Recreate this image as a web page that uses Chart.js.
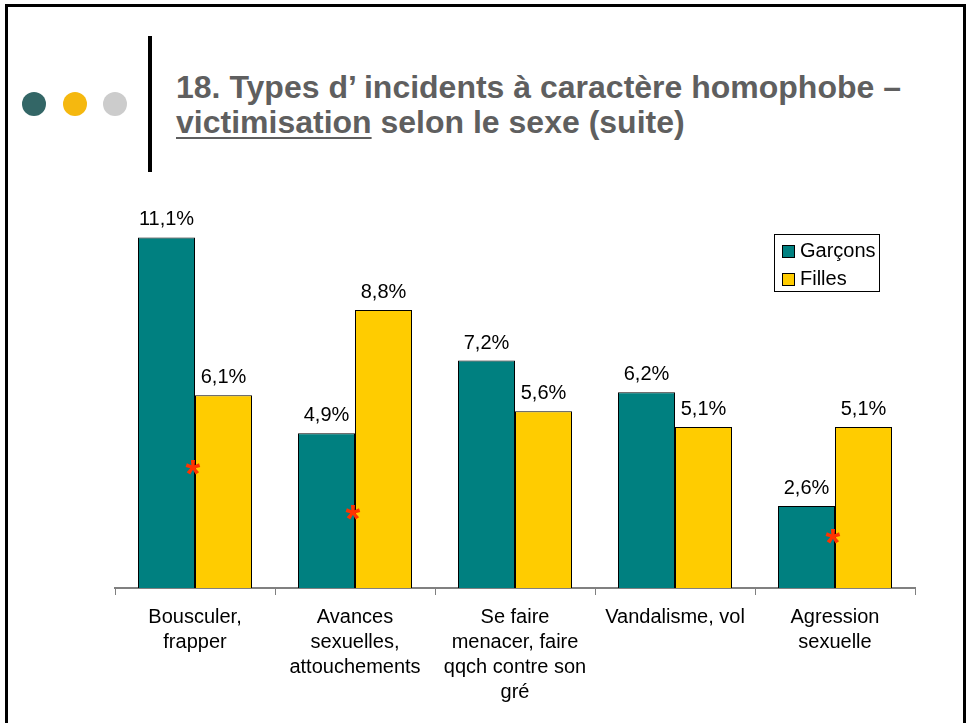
<!DOCTYPE html>
<html>
<head>
<meta charset="utf-8">
<script src="https://cdn.jsdelivr.net/npm/chart.js@4/dist/chart.umd.min.js"></script>
<style>
  html, body { margin: 0; padding: 0; background: #fff; }
  body { width: 966px; height: 723px; position: relative; overflow: hidden; font-family: Arial, "Liberation Sans", sans-serif; }
  #frame { position: absolute; left: 5px; top: 4px; width: 961px; height: 722px; box-sizing: border-box; border: 3px solid #000; }
  .dot { position: absolute; width: 24px; height: 24px; border-radius: 50%; top: 92px; }
  #vbar { position: absolute; left: 148px; top: 36px; width: 4px; height: 136px; background: #000; }
  #title { position: absolute; left: 176px; top: 70px; font-size: 32px; line-height: 35px; font-weight: bold; color: #5F5F5F; white-space: nowrap; }
  #title u { text-decoration-thickness: 2px; text-underline-offset: 4px; }
  #wrap { position: absolute; left: 0; top: 0; width: 966px; height: 723px; }
  #c { display: block; }
</style>
</head>
<body>
<div id="frame"></div>
<div class="dot" style="left:22px;background:#336666;"></div>
<div class="dot" style="left:63px;background:#F5B80F;"></div>
<div class="dot" style="left:103px;background:#CCCCCC;"></div>
<div id="vbar"></div>
<div id="title">18. Types d’ incidents à caractère homophobe –<br><u>victimisation</u> selon le sexe (suite)</div>
<div id="wrap"><canvas id="c" width="966" height="723"></canvas></div>
<script>
const categories = [
  ["Bousculer,", "frapper"],
  ["Avances", "sexuelles,", "attouchements"],
  ["Se faire", "menacer, faire", "qqch contre son", "gré"],
  ["Vandalisme, vol"],
  ["Agression", "sexuelle"]
];
const seriesNames = ["Garçons", "Filles"];
const garcons = [11.1, 4.9, 7.2, 6.2, 2.6];
const filles = [6.1, 8.8, 5.6, 5.1, 5.1];
// height (in %) of the red significance asterisk for each category (null = none)
const significance = [3.8, 2.37, null, null, 1.6];

const FONT = 'Arial, "Liberation Sans", sans-serif';
const fmt = v => v.toFixed(1).replace('.', ',') + '%';

const overlay = {
  id: 'overlay',
  afterDatasetsDraw(chart) {
    const ctx = chart.ctx;
    const xs = chart.scales.x, ys = chart.scales.y;
    ctx.save();
    ctx.font = '20px ' + FONT;
    ctx.fillStyle = '#000';
    ctx.textAlign = 'center';
    ctx.textBaseline = 'alphabetic';
    chart.data.datasets.forEach((ds, di) => {
      chart.getDatasetMeta(di).data.forEach((bar, i) => {
        ctx.fillText(fmt(ds.data[i]), bar.x, bar.y - 12);
      });
    });
    ctx.font = 'bold 38px ' + FONT;
    ctx.fillStyle = '#FF3300';
    significance.forEach((s, i) => {
      if (s === null) return;
      ctx.fillText('*', xs.getPixelForValue(i) - 2, ys.getPixelForValue(s) + 19);
    });
    const lx = chart.chartArea.right - 141, ly = 234;
    ctx.strokeStyle = '#000';
    ctx.lineWidth = 1;
    ctx.strokeRect(lx + 0.5, ly + 0.5, 105, 57);
    ctx.font = '20px ' + FONT;
    ctx.textAlign = 'left';
    ctx.textBaseline = 'middle';
    chart.data.datasets.forEach((ds, di) => {
      const y = ly + 11 + di * 28;
      ctx.fillStyle = ds.backgroundColor;
      ctx.fillRect(lx + 8, y, 12, 12);
      ctx.strokeRect(lx + 8.5, y + 0.5, 12, 12);
      ctx.fillStyle = '#000';
      ctx.fillText(ds.label, lx + 26, y + 6);
    });
    ctx.restore();
  }
};

new Chart(document.getElementById('c'), {
  type: 'bar',
  data: {
    labels: categories,
    datasets: [
      { label: seriesNames[0], data: garcons, backgroundColor: '#008080', borderColor: '#000', borderWidth: 1 },
      { label: seriesNames[1], data: filles, backgroundColor: '#FFCC00', borderColor: '#000', borderWidth: 1 }
    ]
  },
  options: {
    responsive: false,
    animation: false,
    devicePixelRatio: 1,
    layout: { padding: { left: 115, right: 51, top: 209, bottom: 0 } },
    datasets: { bar: { categoryPercentage: 0.7125, barPercentage: 1 } },
    plugins: { legend: { display: false }, tooltip: { enabled: false } },
    scales: {
      x: {
        afterFit(scale) { scale.height = 135; },
        grid: { display: true, drawOnChartArea: false, drawTicks: true, tickLength: 7, color: '#808080', lineWidth: 1, offset: true },
        border: { display: true, color: '#808080', width: 2 },
        ticks: { color: '#000', font: { family: FONT, size: 20, lineHeight: 1.25 }, padding: 10, maxRotation: 0, autoSkip: false }
      },
      y: {
        display: false,
        min: 0,
        max: 12
      }
    }
  },
  plugins: [overlay]
});
</script>
</body>
</html>
